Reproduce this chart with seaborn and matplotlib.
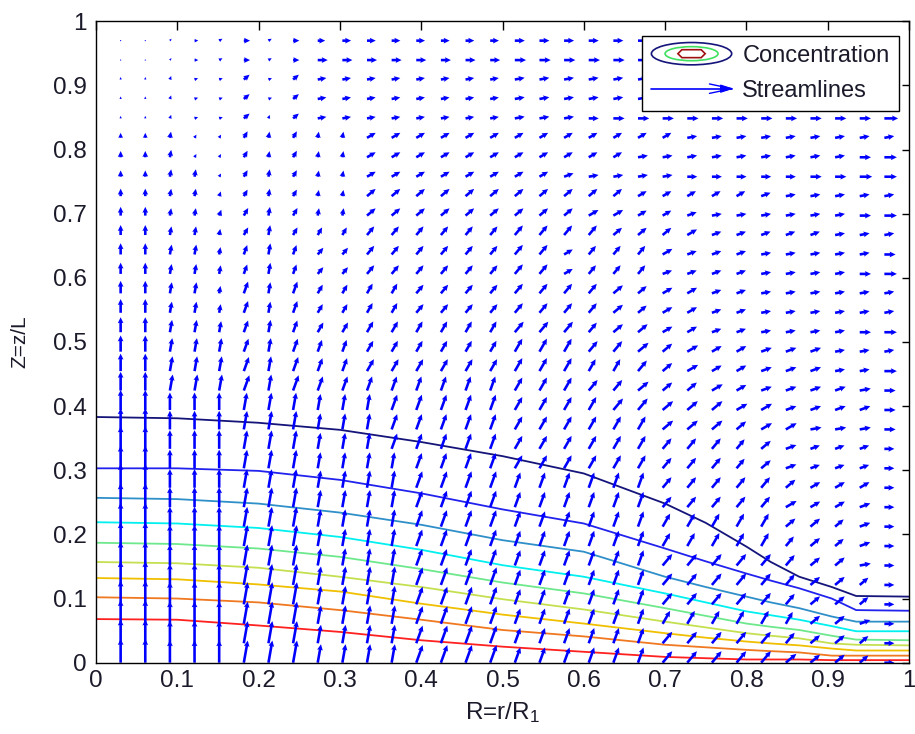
import numpy as np
import pandas as pd
import seaborn as sns
import matplotlib
matplotlib.use("Agg")
import matplotlib.pyplot as plt
from matplotlib.legend_handler import HandlerBase
from matplotlib.patches import Ellipse, Polygon
from matplotlib.lines import Line2D

# ---------------------------------------------------------------------------
# Concentration iso-lines: Z height of each level at the sampled radii
# ---------------------------------------------------------------------------
R_PTS = [0.0, 0.1, 0.2, 0.3, 0.4, 0.5, 0.6, 0.7, 0.75, 0.8, 0.83, 0.865, 0.905, 0.935, 1.0]

Z_LEVEL_1 = [0.383, 0.381, 0.374, 0.363, 0.344, 0.322, 0.295, 0.248, 0.218, 0.181, 0.157, 0.134, 0.118, 0.104, 0.103]
Z_LEVEL_2 = [0.303, 0.303, 0.299, 0.285, 0.264, 0.239, 0.217, 0.178, 0.158, 0.139, 0.128, 0.116, 0.100, 0.082, 0.081]
Z_LEVEL_3 = [0.257, 0.255, 0.248, 0.234, 0.215, 0.191, 0.173, 0.134, 0.118, 0.103, 0.094, 0.085, 0.072, 0.064, 0.064]
Z_LEVEL_4 = [0.219, 0.217, 0.210, 0.196, 0.176, 0.152, 0.134, 0.108, 0.094, 0.080, 0.074, 0.067, 0.057, 0.049, 0.049]
Z_LEVEL_5 = [0.187, 0.185, 0.178, 0.165, 0.146, 0.125, 0.108, 0.085, 0.073, 0.061, 0.056, 0.051, 0.042, 0.036, 0.035]
Z_LEVEL_6 = [0.157, 0.155, 0.148, 0.134, 0.118, 0.099, 0.083, 0.064, 0.055, 0.046, 0.042, 0.038, 0.030, 0.028, 0.027]
Z_LEVEL_7 = [0.132, 0.130, 0.122, 0.111, 0.092, 0.075, 0.061, 0.046, 0.039, 0.033, 0.030, 0.027, 0.022, 0.019, 0.019]
Z_LEVEL_8 = [0.102, 0.100, 0.094, 0.082, 0.067, 0.051, 0.041, 0.028, 0.024, 0.020, 0.018, 0.016, 0.011, 0.011, 0.011]
Z_LEVEL_9 = [0.068, 0.067, 0.058, 0.048, 0.035, 0.025, 0.017, 0.009, 0.007, 0.005, 0.005, 0.005, 0.004, 0.004, 0.004]

LEVEL_COLORS = ["#14147a", "#2222ee", "#2f8fc8", "#00f0f0", "#6ee88c",
                "#c4e050", "#f0c000", "#f07820", "#ff2020"]

# ---------------------------------------------------------------------------
# Velocity field on the 32 x 33 grid (R = k/33, k=1..32 ; Z = k/33, k=32..0).
# One string per row, top row first.  Angle digit d -> d*10 degrees from the
# R axis; length character (base 36) -> relative arrow length.
# ---------------------------------------------------------------------------
N_GRID = 33

ARROW_ANGLE = [
    "99 503030 00000000 000000 00000 00000",
    "99 503030 00000000 000000 00000 00000",
    "99 722424 11111111 111111 11111 11111",
    "99 722424 11111111 111111 11111 11111",
    "99 722474 11111111 111000 00000 00000",
    "99 866686 88333333 333333 31111 11111",
    "99 866686 88333333 333331 11111 11100",
    "99 886686 88333333 332111 10000 00000",
    "99 887686 88444444 444443 33332 11111",
    "99 887686 88444444 444333 32111 11100",
    "99 888686 66555555 555544 43222 22111",
    "99 888787 55555555 553555 32221 11110",
    "99 888787 55555555 553555 22221 11100",
    "99 888787 66665555 555544 33221 11111",
    "99 888787 66665555 555544 33221 11111",
    "99 888787 66666666 555544 33221 11100",
    "99 888787 77666666 666554 43332 22111",
    "99 888787 77666666 666665 43332 22110",
    "99 888787 77777777 666554 44332 22210",
    "99 999888 88877777 666655 44433 22220",
    "99 999888 88877777 666666 44443 31110",
    "99 999888 88877777 666666 55554 22220",
    "99 999888 88887777 666666 55554 22220",
    "99 999888 88887777 777777 55555 43330",
    "99 999888 88887777 777777 55555 33320",
    "99 999888 88887777 777777 66666 44420",
    "99 999888 88887777 777777 66666 54420",
    "99 999888 88887777 777777 55555 54410",
    "99 999888 88887777 777777 55555 54440",
    "99 999888 88887777 777777 55555 54440",
    "99 999888 88887777 777777 66666 64420",
    "99 999888 88887777 777777 55555 54440",
    "99 999888 88887777 777777 55555 44440",
]

ARROW_LEN = [
    "11 233535 67777777 888888 88888 88888",
    "11 233535 88888888 999999 99999 99999",
    "22 333636 77777777 888888 88888 88888",
    "22 333636 77777777 888888 88888 88888",
    "22 333636 77777777 888899 99999 9999b",
    "44 533656 55888888 888888 88888 88888",
    "55 633656 55888888 888888 88888 8889a",
    "55 663666 55888888 888888 88888 899aa",
    "66 664666 55999999 999998 88888 88888",
    "77 665777 66999999 999998 88888 8889a",
    "88 775787 77999999 aaaa99 99888 88888",
    "99 886898 77999999 aa8999 98888 88889",
    "99 887898 77999999 aa8999 88888 8889a",
    "aa 996a9a 88999999 aaaaa9 99888 88888",
    "bb 997a9a 88999999 aaaaa9 99888 88888",
    "cc aa9aaa 99aaaaaa bbbaaa 99888 8889a",
    "dd bbbbbb aaaaaaaa cccbbb aa999 99888",
    "ee cccccc bbbbbbbb cccbbb aa999 9988a",
    "ff dddddd cccccccc cccbbb aaa99 99999",
    "gg eeeeee dddddddd cccccc bbbaa 99999",
    "hh ffffff dddddddd cccccc bbbaa a9999",
    "ii ffffff dddddddd cccccc bbbaa 98888",
    "ii ffffff dddddddd cccccc bbbaa 98888",
    "jj ffffff eeeeeeee dddddd bbbbb a9998",
    "jj gggggg eeeeeeee dddddd bbbbb a9998",
    "jj gggggg eeeeeeee dddddd ccccc aa998",
    "jj hhhhhh eeeeeeee dddddd ccccc aa998",
    "jj hhhhhh eeeeeeee dddddd ccccc baa98",
    "jj hhhhhh ffffffff dddddd ccccc baa98",
    "jj iiiiii ffffffff dddddd ccccc baa98",
    "jj iiiiii ffffffff dddddd ccccc baa98",
    "jj iiiiii ffffffff dddddd ccccc baa98",
    "jj iiiiii ffffffff dddddd ccccc baa98",
]

X_TICKS = [0, 0.1, 0.2, 0.3, 0.4, 0.5, 0.6, 0.7, 0.8, 0.9, 1]
Y_TICKS = [0, 0.1, 0.2, 0.3, 0.4, 0.5, 0.6, 0.7, 0.8, 0.9, 1]
LEGEND_LABELS = ["Concentration", "Streamlines"]

# ---------------------------------------------------------------------------
sns.set_theme(style="white")
plt.rcParams["font.family"] = ["Liberation Sans", "DejaVu Sans"]
plt.rcParams["mathtext.fontset"] = "custom"
plt.rcParams["mathtext.rm"] = "Liberation Sans"
plt.rcParams["mathtext.it"] = "Liberation Sans"
plt.rcParams["mathtext.default"] = "regular"

DPI = 100
fig = plt.figure(figsize=(9.15, 7.34), dpi=DPI, facecolor="white")
ax = fig.add_axes([96 / 915, 1 - 662.7 / 734, 813 / 915, 641.5 / 734])
ax.set_facecolor("white")

# concentration lines
levels = [Z_LEVEL_1, Z_LEVEL_2, Z_LEVEL_3, Z_LEVEL_4, Z_LEVEL_5,
          Z_LEVEL_6, Z_LEVEL_7, Z_LEVEL_8, Z_LEVEL_9]
frames = []
for i, zs in enumerate(levels):
    frames.append(pd.DataFrame({"R": R_PTS, "Z": zs, "level": i}))
contour_df = pd.concat(frames, ignore_index=True)
sns.lineplot(data=contour_df, x="R", y="Z", hue="level", palette=LEVEL_COLORS,
             estimator=None, sort=False, legend=False, linewidth=1.3,
             ax=ax, zorder=1)

# velocity arrows (tail on the grid node, screen-space directions)
ang = np.array([[int(c) for c in s.replace(" ", "")] for s in ARROW_ANGLE]) * 10.0
lng = np.array([[int(c, 36) for c in s.replace(" ", "")] for s in ARROW_LEN], dtype=float)
r_cols = np.arange(1, N_GRID) / N_GRID
z_rows = np.arange(N_GRID - 1, -1, -1) / N_GRID
RR, ZZ = np.meshgrid(r_cols, z_rows)
U = lng * np.cos(np.radians(ang))
V = lng * np.sin(np.radians(ang))
ax.quiver(RR, ZZ, U, V, angles="uv", scale_units="dots", scale=0.8,
          units="dots", width=2.6, headwidth=2.2, headlength=2.3,
          headaxislength=2.1, minlength=0.5, color="#0000ff", zorder=2)

ax.set_xlim(0, 1)
ax.set_ylim(0, 1)
ax.set_xticks(X_TICKS)
ax.set_yticks(Y_TICKS)
ax.set_xticklabels([f"{v:g}" for v in X_TICKS])
ax.set_yticklabels([f"{v:g}" for v in Y_TICKS])
ax.tick_params(axis="both", direction="in", top=True, right=True,
               width=1.0, labelsize=17.5, labelcolor="#1a1a2a", color="black")
ax.tick_params(axis="x", length=6.5, pad=5)
ax.tick_params(axis="y", length=5, pad=6.5)
for sp in ax.spines.values():
    sp.set_visible(True)
    sp.set_color("black")
    sp.set_linewidth(1.0)
ax.grid(False)

ax.set_xlabel(r"R=r/R$_\mathregular{1}$", fontsize=17.5, color="#1a1a2a")
ax.set_ylabel("Z=z/L", fontsize=15, color="#1a1a2a")
ax.xaxis.set_label_coords(0.5, -0.058)
ax.yaxis.set_label_coords(-0.082, 0.5)


# legend icons
class ContourIcon:
    pass


class ArrowIcon:
    pass


class ContourHandler(HandlerBase):
    def create_artists(self, legend, orig_handle, xdescent, ydescent,
                       width, height, fontsize, trans):
        cx = -xdescent + width / 2
        cy = -ydescent + height / 2
        outer = Ellipse((cx, cy), width, height * 1.35, fill=False,
                        ec="#14147a", lw=1.2, transform=trans)
        mid = Ellipse((cx, cy), width * 0.66, height * 0.85, fill=False,
                      ec="#40e060", lw=1.2, transform=trans)
        a = width * 0.17
        b = width * 0.05
        c = height * 0.24
        pts = [(cx - a, cy), (cx - a + b, cy + c), (cx + a - b, cy + c),
               (cx + a, cy), (cx + a - b, cy - c), (cx - a + b, cy - c)]
        inner = Polygon(pts, closed=True, fill=False, ec="#a01010", lw=1.2,
                        transform=trans)
        return [outer, mid, inner]


class ArrowHandler(HandlerBase):
    def create_artists(self, legend, orig_handle, xdescent, ydescent,
                       width, height, fontsize, trans):
        x0 = -xdescent
        x1 = -xdescent + width
        cy = -ydescent + height / 2
        shaft = Line2D([x0, x1], [cy, cy], color="#0000ff", lw=1.2,
                       transform=trans)
        head = Polygon([(x1, cy), (x1 - 8, cy + 2.6), (x1 - 8, cy - 2.6)],
                       closed=True, fc="#0000ff", ec="#0000ff", lw=0.8,
                       transform=trans)
        barb_top = Line2D([x1 - 16, x1], [cy + 3.4, cy], color="#0000ff",
                          lw=1.0, transform=trans)
        barb_bot = Line2D([x1 - 16, x1], [cy - 3.4, cy], color="#0000ff",
                          lw=1.0, transform=trans)
        return [shaft, head, barb_top, barb_bot]


leg = ax.legend([ContourIcon(), ArrowIcon()], LEGEND_LABELS,
                handler_map={ContourIcon: ContourHandler(),
                             ArrowIcon: ArrowHandler()},
                loc="upper right", bbox_to_anchor=(899 / 915, 1 - 35.5 / 734),
                bbox_transform=fig.transFigure, borderaxespad=0,
                frameon=True, fancybox=False, shadow=False, framealpha=1,
                edgecolor="black", fontsize=17, handlelength=3.4,
                handleheight=0.7, handletextpad=0.45, labelspacing=0.55,
                borderpad=0.4)
leg.get_frame().set_linewidth(1.0)
leg.set_zorder(5)
for t in leg.get_texts():
    t.set_color("#1a1a2a")

fig.savefig("out.png", dpi=DPI, facecolor="white")
